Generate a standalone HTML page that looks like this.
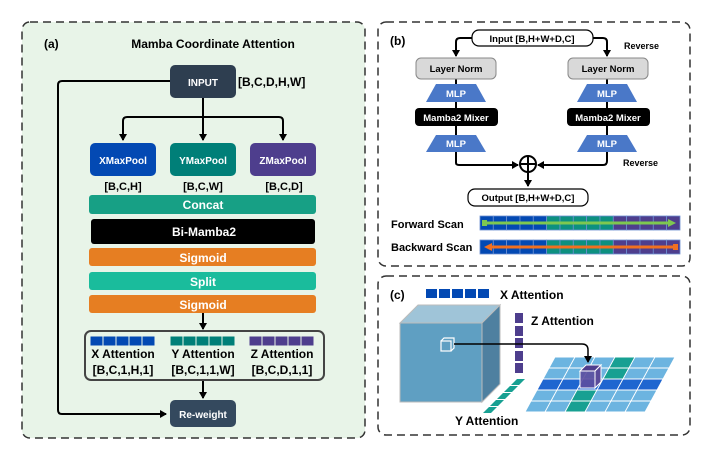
<!DOCTYPE html><html><head><meta charset="utf-8"><style>body{margin:0;background:#fff}svg{display:block;font-family:"Liberation Sans",sans-serif;font-weight:bold}</style></head><body>
<svg width="713" height="457" viewBox="0 0 713 457" xmlns="http://www.w3.org/2000/svg">
<defs><marker id="ah" markerWidth="8" markerHeight="8" refX="6" refY="4" orient="auto" markerUnits="userSpaceOnUse"><path d="M0,0 L7,4 L0,8 z" fill="#000"/></marker></defs>
<!-- Panel a -->
<rect x="22" y="22" width="343" height="416" rx="8" fill="#e8f4e8" stroke="#333" stroke-width="1.5" stroke-dasharray="8,5"/>
<text x="44" y="48" font-size="12">(a)</text>
<text x="213" y="48" font-size="12" text-anchor="middle">Mamba Coordinate Attention</text>
<g fill="none" stroke="#000" stroke-width="2">
<path d="M170,81 H62 Q58,81 58,85 V410 Q58,414 62,414 H166" marker-end="url(#ah)"/>
<path d="M203,98 V140" marker-end="url(#ah)"/>
<path d="M203,117 H127 Q123,117 123,121 V140" marker-end="url(#ah)"/>
<path d="M203,117 H279 Q283,117 283,121 V140" marker-end="url(#ah)"/>
<path d="M203,313 V329" marker-end="url(#ah)"/>
<path d="M203,380 V398" marker-end="url(#ah)"/>
</g>
<rect x="170" y="65" width="66" height="33" rx="5" fill="#2e3e50"/>
<text x="203" y="86" font-size="10" fill="#fff" text-anchor="middle">INPUT</text>
<text x="238" y="86" font-size="12">[B,C,D,H,W]</text>
<rect x="90" y="143" width="66" height="33" rx="5" fill="#0349b3"/>
<rect x="170" y="143" width="66" height="33" rx="5" fill="#007f78"/>
<rect x="250" y="143" width="66" height="33" rx="5" fill="#4e3e8d"/>
<g font-size="10" fill="#fff" text-anchor="middle"><text x="123" y="164">XMaxPool</text><text x="203" y="164">YMaxPool</text><text x="283" y="164">ZMaxPool</text></g>
<g font-size="11" text-anchor="middle"><text x="123" y="190">[B,C,H]</text><text x="203" y="190">[B,C,W]</text><text x="284" y="190">[B,C,D]</text></g>
<rect x="89" y="195" width="227" height="19" rx="3" fill="#17a085"/>
<rect x="91" y="219" width="224" height="25" rx="3" fill="#000"/>
<rect x="89" y="248" width="227" height="18" rx="3" fill="#e67e22"/>
<rect x="89" y="272" width="227" height="18" rx="3" fill="#1abc9c"/>
<rect x="89" y="295" width="227" height="18" rx="3" fill="#e67e22"/>
<g font-size="12" fill="#fff" text-anchor="middle"><text x="203" y="209">Concat</text><text x="204" y="236">Bi-Mamba2</text><text x="203" y="262">Sigmoid</text><text x="203" y="286">Split</text><text x="203" y="309">Sigmoid</text></g>
<rect x="85" y="331" width="239" height="49" rx="6" fill="none" stroke="#444" stroke-width="2"/>
<g stroke="#e8f4e8" stroke-width="1">
<g fill="#0349b3"><rect x="90" y="336" width="13" height="10"/><rect x="103" y="336" width="13" height="10"/><rect x="116" y="336" width="13" height="10"/><rect x="129" y="336" width="13" height="10"/><rect x="142" y="336" width="13" height="10"/></g>
<g fill="#007f78"><rect x="170" y="336" width="13" height="10"/><rect x="183" y="336" width="13" height="10"/><rect x="196" y="336" width="13" height="10"/><rect x="209" y="336" width="13" height="10"/><rect x="222" y="336" width="13" height="10"/></g>
<g fill="#4e3e8d"><rect x="249" y="336" width="13" height="10"/><rect x="262" y="336" width="13" height="10"/><rect x="275" y="336" width="13" height="10"/><rect x="288" y="336" width="13" height="10"/><rect x="301" y="336" width="13" height="10"/></g>
</g>
<g font-size="12" text-anchor="middle"><text x="123" y="358">X Attention</text><text x="203" y="358">Y Attention</text><text x="282" y="358">Z Attention</text>
<text x="123" y="374">[B,C,1,H,1]</text><text x="203" y="374">[B,C,1,1,W]</text><text x="282" y="374">[B,C,D,1,1]</text></g>
<rect x="170" y="400" width="66" height="27" rx="5" fill="#34495e"/>
<text x="203" y="418" font-size="10" fill="#fff" text-anchor="middle">Re-weight</text>

<!-- Panel b -->
<rect x="378" y="22" width="312" height="244" rx="8" fill="none" stroke="#333" stroke-width="1.5" stroke-dasharray="8,5"/>
<text x="390" y="45" font-size="12">(b)</text>
<g fill="none" stroke="#000" stroke-width="2">
<path d="M472,38 H460 Q456,38 456,42 V56" marker-end="url(#ah)"/>
<path d="M593,38 H603 Q607,38 607,42 V56" marker-end="url(#ah)"/>
<path d="M456,79 V163 Q456,165 460,165 H518" marker-end="url(#ah)"/>
<path d="M607,79 V161 Q607,165 603,165 H538" marker-end="url(#ah)"/>
<path d="M528,173 V186" marker-end="url(#ah)"/>
</g>
<circle cx="528" cy="164" r="8" fill="#fff" stroke="#000" stroke-width="2"/>
<path d="M520,164 H536 M528,156 V172" stroke="#000" stroke-width="2"/>
<rect x="472" y="30" width="121" height="16" rx="7" fill="#fff" stroke="#000" stroke-width="1.2"/>
<text x="532" y="42" font-size="9.5" text-anchor="middle">Input [B,H+W+D,C]</text>
<text x="624" y="49" font-size="9">Reverse</text>
<text x="623" y="166" font-size="9">Reverse</text>
<g>
<rect x="416" y="58" width="80" height="21" rx="5" fill="#d9d9d9" stroke="#888"/>
<rect x="568" y="58" width="80" height="21" rx="5" fill="#d9d9d9" stroke="#888"/>
<g fill="#4a78c8"><path d="M436,84 H476 L486,102 H426 z"/><path d="M587,84 H627 L637,102 H577 z"/><path d="M436,135 H476 L486,152 H426 z"/><path d="M587,135 H627 L637,152 H577 z"/></g>
<rect x="415" y="108" width="83" height="18" rx="4" fill="#000"/>
<rect x="567" y="108" width="83" height="18" rx="4" fill="#000"/>
</g>
<g font-size="9.5" text-anchor="middle"><text x="456" y="72">Layer Norm</text><text x="608" y="72">Layer Norm</text>
<g fill="#fff"><text x="456" y="97">MLP</text><text x="607" y="97">MLP</text><text x="456" y="147">MLP</text><text x="607" y="147">MLP</text><text x="456" y="121">Mamba2 Mixer</text><text x="608" y="121">Mamba2 Mixer</text></g></g>
<rect x="468" y="189" width="120" height="17" rx="7" fill="#fff" stroke="#000" stroke-width="1.2"/>
<text x="528" y="201" font-size="9.5" text-anchor="middle">Output [B,H+W+D,C]</text>
<text x="391" y="228" font-size="11">Forward Scan</text>
<text x="391" y="251" font-size="11">Backward Scan</text>
<g stroke="#6c8fd0" stroke-width="0.8">
<g fill="#0349b3"><rect x="480" y="216" width="13.3" height="14"/><rect x="493.3" y="216" width="13.3" height="14"/><rect x="506.6" y="216" width="13.3" height="14"/><rect x="520" y="216" width="13.3" height="14"/><rect x="533.3" y="216" width="13.3" height="14"/>
<rect x="480" y="240" width="13.3" height="14"/><rect x="493.3" y="240" width="13.3" height="14"/><rect x="506.6" y="240" width="13.3" height="14"/><rect x="520" y="240" width="13.3" height="14"/><rect x="533.3" y="240" width="13.3" height="14"/></g>
<g fill="#0d9080"><rect x="546.6" y="216" width="13.3" height="14"/><rect x="560" y="216" width="13.3" height="14"/><rect x="573.3" y="216" width="13.3" height="14"/><rect x="586.6" y="216" width="13.3" height="14"/><rect x="600" y="216" width="13.3" height="14"/>
<rect x="546.6" y="240" width="13.3" height="14"/><rect x="560" y="240" width="13.3" height="14"/><rect x="573.3" y="240" width="13.3" height="14"/><rect x="586.6" y="240" width="13.3" height="14"/><rect x="600" y="240" width="13.3" height="14"/></g>
<g fill="#4e3e8d"><rect x="613.3" y="216" width="13.3" height="14"/><rect x="626.6" y="216" width="13.3" height="14"/><rect x="640" y="216" width="13.3" height="14"/><rect x="653.3" y="216" width="13.3" height="14"/><rect x="666.6" y="216" width="13.4" height="14"/>
<rect x="613.3" y="240" width="13.3" height="14"/><rect x="626.6" y="240" width="13.3" height="14"/><rect x="640" y="240" width="13.3" height="14"/><rect x="653.3" y="240" width="13.3" height="14"/><rect x="666.6" y="240" width="13.4" height="14"/></g>
</g>
<path d="M484,223 H670" stroke="#7ec850" stroke-width="3"/><path d="M668,219 L676,223 L668,227 z" fill="#7ec850"/><rect x="482" y="220" width="5" height="6" fill="#7ec850"/>
<path d="M490,247 H676" stroke="#f07020" stroke-width="3"/><path d="M492,243 L484,247 L492,251 z" fill="#f07020"/><rect x="673" y="244" width="5" height="6" fill="#f07020"/>

<!-- Panel c -->
<rect x="378" y="276" width="312" height="159" rx="8" fill="none" stroke="#333" stroke-width="1.5" stroke-dasharray="8,5"/>
<text x="390" y="299" font-size="12">(c)</text>
<g fill="#0349b3"><rect x="426" y="289" width="11" height="9"/><rect x="439" y="289" width="11" height="9"/><rect x="452" y="289" width="11" height="9"/><rect x="465" y="289" width="11" height="9"/><rect x="478" y="289" width="11" height="9"/></g>
<text x="500" y="299" font-size="12">X Attention</text>
<g fill="#4e3e8d"><rect x="515" y="313" width="8" height="10"/><rect x="515" y="326" width="8" height="10"/><rect x="515" y="338" width="8" height="10"/><rect x="515" y="351" width="8" height="10"/><rect x="515" y="363" width="8" height="10"/></g>
<text x="531" y="325" font-size="12">Z Attention</text>
<g fill="#17a092"><path d="M517,379 H525 L519,385 H511 z"/><path d="M510,386 H518 L512,392 H504 z"/><path d="M503,393 H511 L505,399 H497 z"/><path d="M496,400 H504 L498,406 H490 z"/><path d="M489,407 H497 L491,413 H483 z"/></g>
<text x="455" y="425" font-size="12">Y Attention</text>
<path d="M400,323 L418,305 H500 L482,323 z" fill="#9fc4d8" stroke="#bbb"/>
<path d="M482,323 L500,305 V384 L482,402 z" fill="#4e80a0" stroke="#bbb"/>
<rect x="400" y="323" width="82" height="79" fill="#5f9fc2" stroke="#bbb"/>
<path d="M441,341 L444,338 H454 V348 L451,351" fill="none" stroke="#fff" stroke-width="1.2"/>
<rect x="441" y="341" width="10" height="10" fill="none" stroke="#fff" stroke-width="1.2"/>
<g transform="translate(0,357) skewX(-28.6)" stroke="#fff" stroke-width="1">
<g fill="#6cb4e0">
<rect x="555" y="0" width="20" height="11"/><rect x="575" y="0" width="20" height="11"/><rect x="595" y="0" width="20" height="11"/><rect x="615" y="0" width="20" height="11" fill="#17a092"/><rect x="635" y="0" width="20" height="11"/><rect x="655" y="0" width="20" height="11"/>
<rect x="555" y="11" width="20" height="11"/><rect x="575" y="11" width="20" height="11"/><rect x="595" y="11" width="20" height="11"/><rect x="615" y="11" width="20" height="11" fill="#17a092"/><rect x="635" y="11" width="20" height="11"/><rect x="655" y="11" width="20" height="11"/>
<rect x="555" y="22" width="20" height="11" fill="#1f66d0"/><rect x="575" y="22" width="20" height="11" fill="#1f66d0"/><rect x="595" y="22" width="20" height="11" fill="#1f66d0"/><rect x="615" y="22" width="20" height="11" fill="#1f66d0"/><rect x="635" y="22" width="20" height="11" fill="#1f66d0"/><rect x="655" y="22" width="20" height="11" fill="#1f66d0"/>
<rect x="555" y="33" width="20" height="11"/><rect x="575" y="33" width="20" height="11"/><rect x="595" y="33" width="20" height="11" fill="#17a092"/><rect x="615" y="33" width="20" height="11"/><rect x="635" y="33" width="20" height="11"/><rect x="655" y="33" width="20" height="11"/>
<rect x="555" y="44" width="20" height="11"/><rect x="575" y="44" width="20" height="11"/><rect x="595" y="44" width="20" height="11" fill="#17a092"/><rect x="615" y="44" width="20" height="11"/><rect x="635" y="44" width="20" height="11"/><rect x="655" y="44" width="20" height="11"/>
</g></g>
<path d="M580,371 L586,365 H601 L595,371 z" fill="#4e3e8d" stroke="#fff"/>
<path d="M595,371 L601,365 V382 L595,388 z" fill="#5a4a9a" stroke="#fff"/>
<rect x="580" y="371" width="15" height="17" fill="#5c4c9e" stroke="#fff" fill-opacity="0.9"/>
<path d="M454,344 H582 Q588,344 588,350 V362" fill="none" stroke="#000" stroke-width="1.5" marker-end="url(#ah)"/>
</svg>
</body></html>
